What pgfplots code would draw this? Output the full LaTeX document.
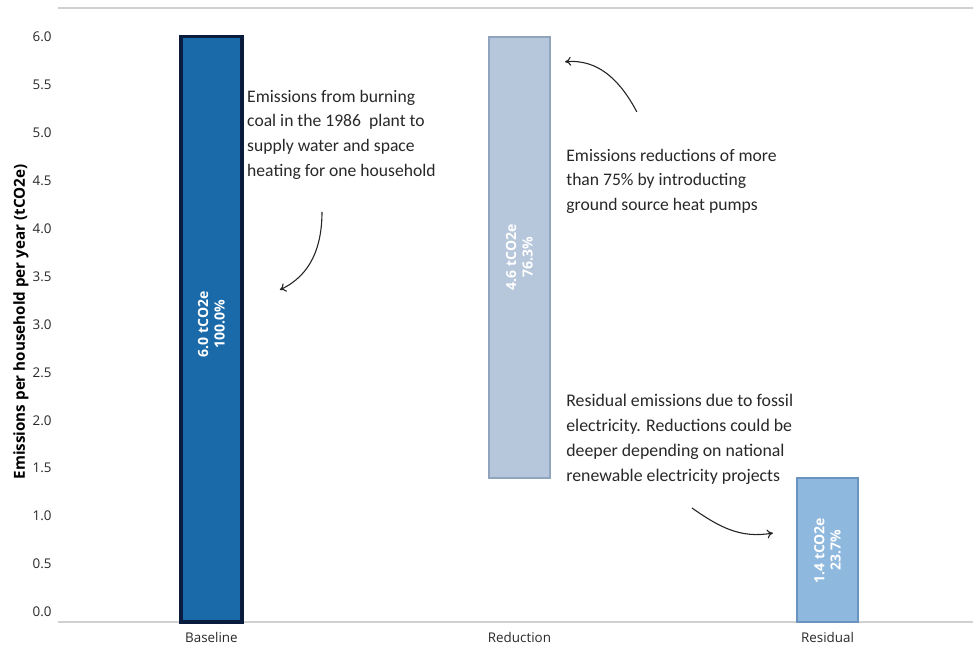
\documentclass[border=0pt]{standalone}
\usepackage{fontspec}
\setmainfont{Carlito}
\newfontfamily\osans{Open Sans}
\usepackage{pgfplots}
\pgfplotsset{compat=1.18}
\usetikzlibrary{arrows.meta}
\definecolor{baseFill}{RGB}{26,106,170}
\definecolor{baseEdge}{RGB}{10,28,62}
\definecolor{redFill}{RGB}{182,198,219}
\definecolor{redEdge}{RGB}{145,164,190}
\definecolor{resFill}{RGB}{143,184,222}
\definecolor{resEdge}{RGB}{105,148,192}
\definecolor{txt}{RGB}{40,40,40}
\begin{document}
\begin{tikzpicture}
\begin{axis}[
  scale only axis, width=457.5pt, height=307pt,
  xmin=-0.498, xmax=2.4724, ymin=-0.104, ymax=6.30,
  separate axis lines,
  x axis line style={draw=black!18, line width=0.6pt},
  y axis line style={draw=none},
  tick style={draw=none}, major tick length=0pt,
  xtick={0,1,2}, xticklabels={Baseline,Reduction,Residual},
  ytick={0,0.5,...,6.0},
  /pgf/number format/assume math mode=true,
  yticklabel style={/pgf/number format/fixed, /pgf/number format/fixed zerofill, /pgf/number format/precision=1, inner sep=0pt, anchor=east, xshift=-3pt},
  xticklabel style={inner sep=0pt, anchor=north, yshift=-5pt},
  tick label style={font=\osans\fontsize{6.7}{7}\selectfont, text=txt},
  clip=false,
]
% Baseline
\addplot[fill=baseFill, draw=baseEdge, line width=1.6pt] coordinates {(-0.099,-0.104) (0.099,-0.104) (0.099,6.0) (-0.099,6.0)} -- cycle;
% Reduction (floating: from 1.4 to 6.0)
\addplot[fill=redFill, draw=redEdge, line width=0.8pt] coordinates {(0.901,1.4) (1.099,1.4) (1.099,6.0) (0.901,6.0)} -- cycle;
% Residual
\addplot[fill=resFill, draw=resEdge, line width=0.8pt] coordinates {(1.901,-0.104) (2.099,-0.104) (2.099,1.4) (1.901,1.4)} -- cycle;

% bar labels
\node[rotate=90, align=center, text=white, font=\osans\bfseries\fontsize{7}{8.2}\selectfont] at (axis cs:0,3.0) {6.0 tCO2e\\100.0\%};
\node[rotate=90, align=center, text=white, font=\osans\bfseries\fontsize{7}{8.2}\selectfont] at (axis cs:1,3.7) {4.6 tCO2e\\76.3\%};
\node[rotate=90, align=center, text=white, font=\osans\bfseries\fontsize{7}{8.2}\selectfont] at (axis cs:2,0.64) {1.4 tCO2e\\23.7\%};

% y label
\node[rotate=90, font=\osans\bfseries\fontsize{7.6}{8}\selectfont, text=black] at (axis cs:-0.6185,3.026) {Emissions per household per year (tCO2e)};

% annotations
\node[anchor=north west, inner sep=0pt, align=left, text=txt, font=\fontsize{8.8}{12.3}\selectfont] at (axis cs:0.115,5.448)
  {Emissions from burning\\coal in the 1986\ \ plant to\\supply water and space\\heating for one household};
\node[anchor=north west, inner sep=0pt, align=left, text=txt, font=\fontsize{8.8}{12.3}\selectfont] at (axis cs:1.151,4.833)
  {Emissions reductions of more\\than 75\% by introducting\\ground source heat pumps};
\node[anchor=north west, inner sep=0pt, align=left, text=txt, font=\fontsize{8.9}{12.6}\selectfont] at (axis cs:1.151,2.281)
  {Residual emissions due to fossil\\electricity. Reductions could be\\deeper depending on national\\renewable electricity projects};

% arrows
\draw[-{To[length=3pt,width=4.5pt]}, line width=0.55pt, black!85] (axis cs:0.359,4.174) to[out=-90,in=25] (axis cs:0.222,3.36);
\draw[-{To[length=3pt,width=4.5pt]}, line width=0.55pt, black!85] (axis cs:1.381,5.217) to[out=118,in=5] (axis cs:1.148,5.739);
\draw[-{To[length=3pt,width=4.5pt]}, line width=0.55pt, black!85] (axis cs:1.560,1.085) to[out=-35,in=190] (axis cs:1.823,0.824);
\end{axis}
\pgfresetboundingbox
\path[use as bounding box] ([xshift=-29pt,yshift=-11.5pt]current axis.south west) rectangle ([yshift=4pt]current axis.north east);
\end{tikzpicture}
\end{document}
